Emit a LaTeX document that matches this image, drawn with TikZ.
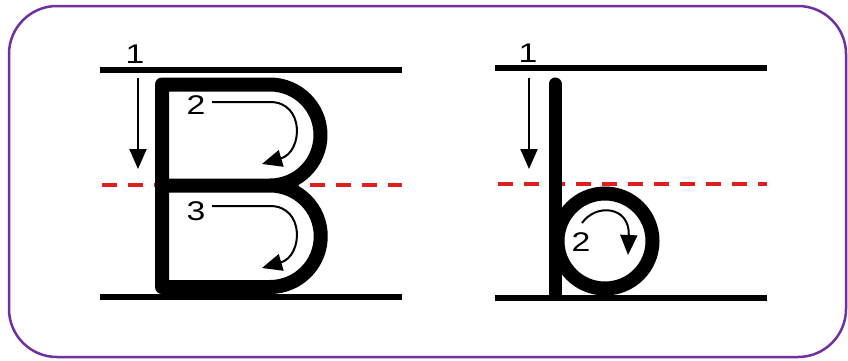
\documentclass[tikz,border=0pt]{standalone}
\usepackage{fontspec}
\setmainfont{Liberation Sans}
\usetikzlibrary{arrows.meta}
\definecolor{framepurple}{RGB}{112,48,160}
\definecolor{guidered}{RGB}{224,30,30}
\tikzset{
  guide/.style={line width=6pt, black},
  midguide/.style={line width=4pt, guidered, dash pattern=on 15pt off 11pt},
  letter/.style={line width=14pt, black, line join=round},
  strokearrow/.style={line width=2pt, -{Triangle[length=20pt,width=17pt]}},
  num/.style={font=\fontsize{27}{27}\selectfont, inner sep=0pt}
}
\newcommand{\wide}[1]{\scalebox{1.25}[1]{#1}}
\begin{document}
\begin{tikzpicture}[x=1pt,y=-1pt]
\useasboundingbox (0,0) rectangle (848,360);
\fill[white] (0,0) rectangle (848,360);
\draw[framepurple, line width=2.5pt, rounded corners=48pt] (9,6) rectangle (846,357);

% ---- B panel ----
\draw[midguide] (102,185) -- (402,185);
\draw[guide] (100,70) -- (402,70);
\draw[guide] (100,297) -- (402,297);
\draw[letter] (162,84.5) -- (270,84.5) arc[start angle=-90,end angle=90,radius=50.5]
  -- (162,185.5) -- (270,185.5) arc[start angle=-90,end angle=90,radius=50.75]
  -- (162,287) -- cycle;
\node[num] (B1) at (135,54) {\wide{1}};
\node[num] (B2) at (196,105) {\wide{2}};
\node[num] (B3) at (196,211) {\wide{3}};
\coordinate (B1s) at (138,78);
\coordinate (B1e) at (138,169);
\draw[strokearrow] (B1s) -- (B1e);
\coordinate (B2s) at (212,102);
\coordinate (B2e) at (262,164);
\draw[strokearrow] (B2s) -- (270,102) .. controls (305,102) and (303,152) .. (B2e);
\coordinate (B3s) at (212,206);
\coordinate (B3e) at (262,268);
\draw[strokearrow] (B3s) -- (270,206) .. controls (305,206) and (303,256) .. (B3e);

% ---- b panel ----
\draw[midguide] (498,184) -- (767,184);
\draw[guide] (495,68) -- (767,68);
\draw[guide] (495,298) -- (767,298);
\draw[line width=13pt, black, line cap=round] (555,84) -- (555,290);
\draw[line width=13pt, black] (555,250) -- (555,295);
\draw[line width=14pt, black] (605,241) circle[radius=47.5];
\node[num] (b1) at (528,53) {\wide{1}};
\node[num] (b2) at (581,242) {\wide{2}};
\coordinate (b1s) at (529,78);
\coordinate (b1e) at (529,169);
\draw[strokearrow] (b1s) -- (b1e);
\coordinate (b2s) at (582,223);
\coordinate (b2e) at (628,255);
\draw[strokearrow] (b2s) .. controls (596,203) and (630,206) .. (b2e);
\end{tikzpicture}
\end{document}
